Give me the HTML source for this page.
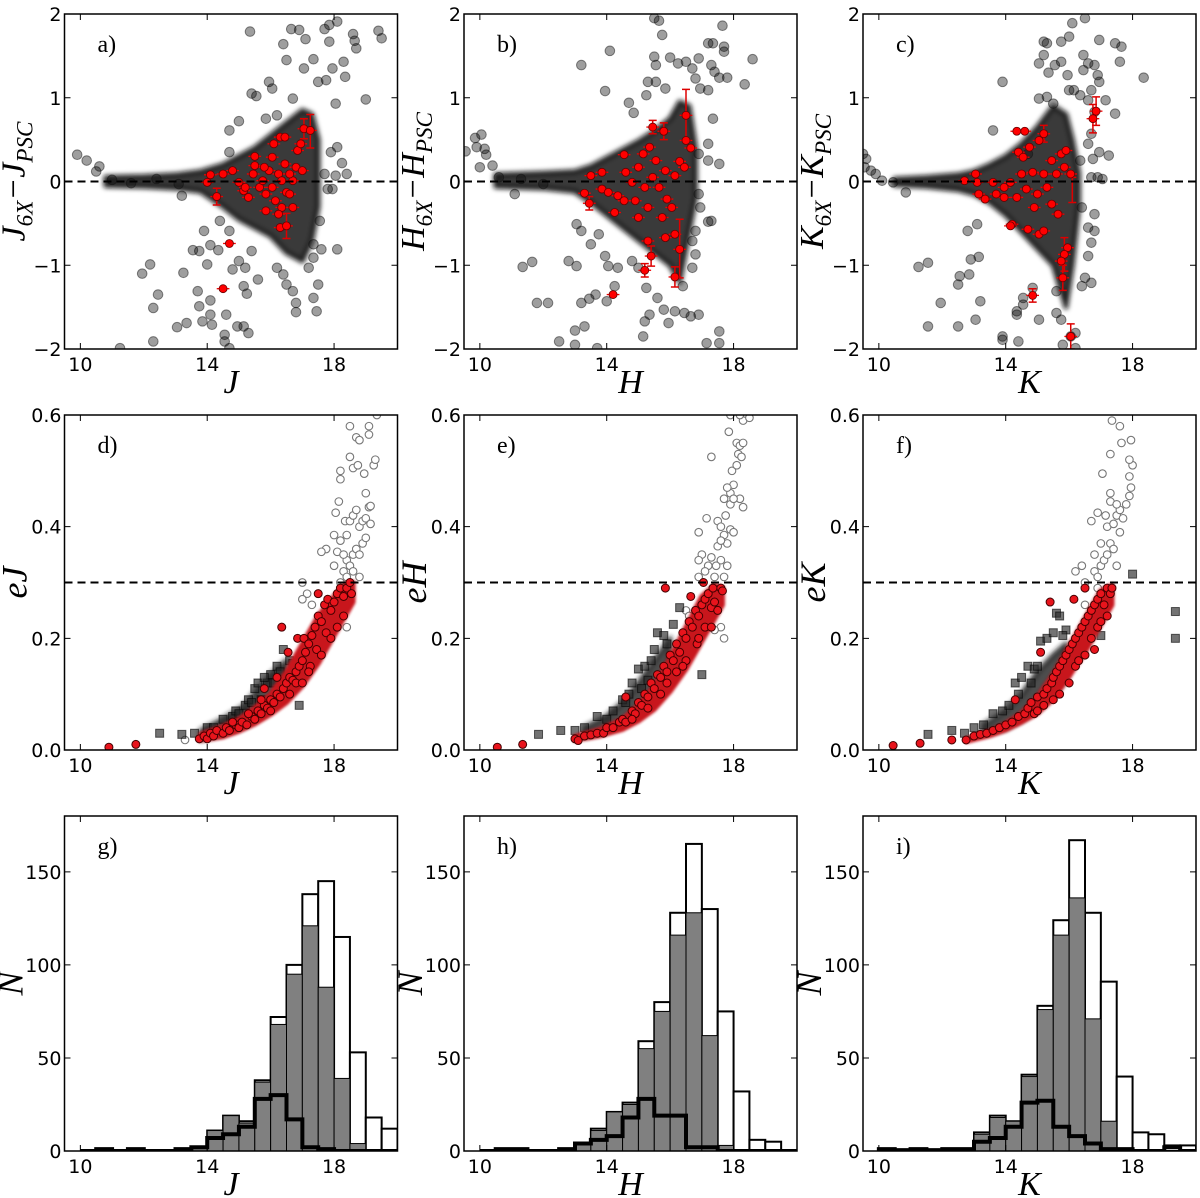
<!DOCTYPE html>
<html><head><meta charset="utf-8"><style>
html,body{margin:0;padding:0;background:#fff;}
svg{display:block;}
.tk{font-family:"DejaVu Sans","Liberation Sans",sans-serif;font-size:19px;fill:#000;}
.ml{font-family:"Liberation Serif",serif;font-style:italic;fill:#000;}
.pl{font-family:"Liberation Serif",serif;font-size:24px;fill:#000;}
</style></head><body>
<svg id="fig" width="1200" height="1198" xmlns="http://www.w3.org/2000/svg">
<defs><filter id="fz" x="-10%" y="-10%" width="120%" height="120%"><feGaussianBlur stdDeviation="2.5"/></filter>
<filter id="fz2" x="-10%" y="-10%" width="120%" height="120%"><feGaussianBlur stdDeviation="1.2"/></filter></defs>
</svg>
<script>
// ---------------- DATA ----------------
const aGray=[[9.9,0.32],[10.2,0.25],[10.6,0.18],[10.5,0.12],[15.35,1.79],[15.4,1.05],[15.55,1.02],[15.95,1.19],[16.05,1.11],[16.4,1.64],[16.5,1.45],[16.65,1.82],[16.9,1.81],[17.1,1.7],[17.35,1.46],[17.7,1.82],[17.85,1.87],[18.1,1.91],[18.6,1.76],[18.65,1.68],[18.7,1.59],[18.3,1.43],[19.4,1.8],[19.5,1.71],[17.85,1.67],[17.05,1.35],[17.5,1.19],[17.95,1.35],[18.35,1.25],[19.0,0.98],[17.75,1.21],[18.05,0.93],[16.7,0.99],[16.2,0.79],[15.85,0.75],[15.0,0.72],[14.7,0.61],[18.25,0.22],[18.1,0.41],[17.9,0.35],[17.7,0.09],[17.8,-0.09],[17.95,-0.09],[18.05,0.07],[17.55,-0.47],[17.35,-0.75],[17.6,-0.81],[18.1,-0.81],[17.35,-0.91],[17.2,-1.03],[17.5,-1.23],[17.35,-1.39],[17.45,-1.55],[16.8,-1.56],[16.8,-1.45],[16.5,-1.23],[16.7,-1.31],[16.2,-1.03],[16.4,-1.11],[15.4,-0.83],[15.2,-1.03],[15.6,-1.17],[15.15,-1.25],[15.25,-1.34],[14.95,-1.73],[15.15,-1.73],[15.3,-1.81],[14.6,-1.59],[14.55,-1.83],[14.55,-1.91],[14.7,-1.99],[14.15,-1.71],[13.85,-1.67],[13.75,-1.49],[13.7,-1.31],[14.1,-1.42],[14.1,-1.59],[13.25,-1.09],[13.35,-1.69],[13.05,-1.74],[12.3,-1.91],[12.45,-1.35],[12.3,-1.51],[12.2,-0.99],[11.95,-1.1],[11.25,-1.99],[13.55,-0.82],[13.75,-0.83],[13.9,-0.59],[14.0,-0.99],[14.35,-0.82],[14.7,-0.59],[14.8,-1.05],[15.0,-0.95],[14.4,-0.47],[14.1,-0.76],[13.2,-0.17],[14.7,0.35],[18.4,0.09],[11.0,0.02],[11.6,-0.02],[12.4,0.03],[13.1,-0.03]];
const aRed=[[14.1,0.08],[14.0,-0.01],[14.3,-0.18],[14.5,0.09],[14.8,0.13],[15.0,-0.01],[15.15,-0.11],[15.3,-0.19],[15.45,0.09],[15.5,0.3],[15.5,0.19],[15.65,-0.07],[15.75,0.01],[15.85,-0.15],[15.95,0.13],[16.05,-0.07],[16.1,0.45],[16.15,-0.23],[16.25,0.09],[16.3,0.53],[16.35,0.01],[16.45,0.53],[16.45,0.21],[16.5,-0.13],[16.35,-0.31],[16.3,-0.55],[16.5,-0.53],[16.6,-0.15],[16.7,0.01],[16.8,0.17],[16.85,0.37],[16.95,0.45],[17.0,0.13],[17.05,0.63],[17.25,0.61],[16.7,-0.31],[15.85,-0.35],[16.25,-0.39],[14.7,-0.74],[14.5,-1.28],[15.2,-0.07],[15.8,0.17],[16.05,0.29],[16.6,0.09]];
const aErr=[[17.25,0.6,0.2],[17.05,0.63,0.12],[16.5,-0.53,0.15],[14.3,-0.18,0.1]];
const aEnvX=[10.8,12,13,13.8,14.5,15,15.5,16,16.5,17,17.3,17.5];
const aEnvUp=[0.05,0.06,0.08,0.12,0.2,0.3,0.4,0.55,0.7,0.85,0.8,0.5];
const aEnvLo=[-0.05,-0.06,-0.08,-0.12,-0.3,-0.45,-0.55,-0.65,-0.85,-0.95,-0.7,-0.3];

const bGray=[[9.55,0.36],[9.85,0.52],[10.05,0.56],[9.9,0.41],[10.15,0.39],[10.2,0.32],[10.0,0.17],[10.4,0.19],[11.1,-0.15],[11.35,-1.02],[11.65,-0.96],[11.8,-1.45],[12.15,-1.45],[12.5,-1.91],[13.0,-1.95],[13.0,-1.78],[13.2,1.39],[14.1,1.56],[13.95,1.08],[14.7,0.94],[14.85,0.82],[15.5,1.95],[15.65,1.92],[15.75,1.75],[15.5,1.49],[15.55,1.39],[15.3,1.19],[15.55,1.19],[15.25,1.03],[15.85,1.11],[16.0,1.48],[16.25,1.41],[16.5,1.43],[16.7,1.35],[16.8,1.23],[16.9,1.47],[17.2,1.65],[17.35,1.65],[17.3,1.39],[17.4,1.31],[17.55,1.24],[17.7,1.61],[17.7,1.55],[17.65,1.86],[17.8,1.24],[18.35,1.16],[18.6,1.46],[16.95,1.11],[17.2,1.09],[17.35,0.75],[17.2,0.45],[17.2,0.25],[16.9,0.33],[17.55,0.21],[16.9,-0.15],[16.95,-0.31],[16.8,-0.59],[16.8,-0.87],[17.2,-0.48],[16.7,-1.03],[16.4,-1.25],[16.45,-1.57],[16.65,-1.61],[16.9,-1.59],[16.15,-1.55],[15.95,-1.69],[15.8,-1.53],[15.6,-1.39],[15.35,-1.59],[15.2,-1.67],[15.15,-1.85],[15.25,-1.27],[15.0,-1.03],[14.8,-0.95],[14.35,-1.03],[14.05,-1.01],[13.95,-0.89],[14.0,-1.43],[14.25,-1.25],[13.65,-1.35],[13.45,-1.4],[13.2,-1.45],[13.3,-1.73],[13.5,-0.75],[13.75,-0.63],[13.2,-0.59],[13.05,-0.51],[12.8,-0.95],[13.05,-1.01],[17.55,-1.93],[17.15,-1.93],[17.55,-1.79],[17.3,-0.47],[16.7,-0.71],[13.7,-1.99],[10.6,0.05],[11.3,0.03],[12.0,-0.03]];
const bRed=[[13.3,-0.14],[13.45,-0.26],[13.5,0.07],[13.85,0.11],[13.85,-0.09],[14.05,-0.13],[14.35,-0.17],[14.25,-0.37],[14.55,0.32],[14.6,0.11],[14.8,-0.01],[14.9,-0.23],[15.0,0.17],[15.15,0.33],[15.2,-0.07],[15.3,-0.31],[15.35,0.41],[15.45,0.65],[15.45,0.05],[15.55,0.25],[15.65,-0.07],[15.75,-0.43],[15.8,0.6],[15.85,0.13],[15.9,-0.21],[15.85,-0.67],[15.3,-0.71],[15.4,-0.89],[15.2,-1.06],[16.05,-0.31],[16.15,0.07],[16.15,-0.63],[16.3,-0.81],[16.15,-1.14],[16.3,0.24],[16.45,0.17],[16.5,0.79],[16.5,0.49],[16.65,0.4],[14.2,-1.35],[14.55,-0.23],[15.0,-0.43]];
const bErr=[[16.5,0.8,0.3],[16.3,-0.8,0.35],[15.45,0.65,0.08],[15.8,0.6,0.1],[16.15,-1.14,0.12],[15.4,-0.89,0.12],[15.2,-1.06,0.08],[13.45,-0.26,0.08]];
const bEnvX=[10.5,12,13,13.5,14,14.5,15,15.5,16,16.3,16.6,16.8];
const bEnvUp=[0.08,0.1,0.12,0.18,0.28,0.38,0.48,0.6,0.75,0.95,0.9,0.4];
const bEnvLo=[-0.06,-0.08,-0.12,-0.25,-0.4,-0.55,-0.7,-0.85,-1.0,-1.2,-0.6,-0.2];

const cGray=[[9.5,0.33],[9.6,0.27],[9.55,0.17],[9.75,0.13],[9.9,0.09],[10.1,0.01],[10.45,-0.01],[10.85,-0.13],[11.25,-1.02],[11.55,-0.97],[11.55,-1.73],[11.95,-1.45],[12.5,-1.23],[12.55,-1.13],[12.85,-1.11],[12.9,-0.93],[12.5,-1.73],[12.8,-0.59],[13.1,-0.51],[13.15,-0.9],[13.2,-1.43],[13.05,-1.65],[13.6,0.61],[13.9,1.19],[13.9,-1.85],[13.9,-1.89],[14.4,-1.91],[14.35,-1.55],[14.35,-1.59],[14.55,-1.39],[14.55,-1.47],[15.05,-1.65],[14.85,-1.27],[15.6,-1.31],[15.6,-1.57],[15.75,-1.65],[15.8,-1.95],[16.05,-1.85],[16.4,-1.25],[16.5,-1.15],[16.7,-1.21],[16.6,-0.89],[16.7,-0.73],[16.8,-0.59],[16.8,-0.39],[16.6,-0.55],[16.4,-0.31],[16.7,0.05],[16.9,0.05],[17.05,0.03],[16.75,0.27],[16.95,0.35],[17.25,0.31],[16.6,0.45],[16.35,0.25],[16.7,0.57],[16.6,0.97],[16.8,0.83],[17.45,0.81],[17.15,0.97],[16.9,1.27],[16.95,1.19],[16.7,1.09],[16.6,1.41],[16.45,1.51],[16.45,1.33],[16.8,1.39],[16.95,1.69],[16.5,1.95],[16.1,1.89],[15.75,1.67],[15.75,1.43],[15.55,1.39],[15.95,1.27],[16.0,1.09],[16.15,1.09],[16.35,1.03],[15.2,1.67],[15.3,1.65],[15.2,1.51],[15.05,1.41],[15.35,1.3],[15.05,0.99],[15.3,1.01],[15.5,0.93],[17.45,1.65],[17.65,1.61],[17.6,1.43],[18.35,1.24],[16.0,1.73],[14.7,0.33],[16.2,-1.81],[16.2,-1.99]];
const cRed=[[12.7,0.01],[13.05,0.09],[13.1,-0.01],[13.15,-0.15],[13.35,-0.21],[13.6,-0.01],[13.7,-0.15],[13.95,-0.07],[13.95,-0.19],[14.15,-0.01],[14.2,-0.51],[14.35,-0.19],[14.4,0.35],[14.5,0.09],[14.6,0.6],[14.55,0.29],[14.65,-0.09],[14.7,-0.57],[14.75,0.41],[14.85,0.11],[14.9,-0.31],[15.0,-0.15],[15.05,0.49],[15.05,-0.63],[15.2,0.57],[15.2,0.09],[15.2,-0.59],[15.3,-0.07],[15.45,0.25],[15.45,-0.27],[15.6,0.09],[15.65,-0.39],[15.75,0.33],[15.85,0.17],[15.95,-0.79],[15.85,-0.87],[15.8,-1.15],[15.75,-0.95],[15.9,0.37],[16.05,0.09],[16.05,-1.85],[14.85,-1.36],[16.75,0.75],[16.85,0.84],[14.15,-0.53],[14.35,0.6]];
const cErr=[[16.85,0.84,0.17],[16.75,0.75,0.17],[16.05,-1.85,0.15],[15.8,-1.15,0.15],[15.85,-0.87,0.2],[14.85,-1.36,0.08],[15.2,0.57,0.1],[16.1,-0.1,0.15]];
const cEnvX=[10.5,11.5,12.5,13,13.5,14,14.5,15,15.5,15.9,16.1,16.3];
const cEnvUp=[0.03,0.05,0.08,0.12,0.2,0.3,0.45,0.65,0.9,0.8,0.5,0.1];
const cEnvLo=[-0.04,-0.06,-0.1,-0.15,-0.25,-0.4,-0.6,-0.8,-1.0,-1.5,-1.0,-0.3];

const dRed=[[10.9,0.005],[11.75,0.01],[13.75,0.02],[13.9,0.025],[14.0,0.02],[14.1,0.03],[14.2,0.025],[14.3,0.035],[14.5,0.03],[14.6,0.04],[14.7,0.035],[14.9,0.045],[15.0,0.04],[15.1,0.05],[15.25,0.045],[15.4,0.06],[15.5,0.055],[15.6,0.07],[15.7,0.065],[15.8,0.08],[15.9,0.075],[16.0,0.09],[16.1,0.085],[16.2,0.1],[16.3,0.095],[16.35,0.22],[16.4,0.11],[16.5,0.12],[16.55,0.175],[16.6,0.13],[16.7,0.125],[16.8,0.14],[16.85,0.2],[16.9,0.15],[17.0,0.16],[17.05,0.2],[17.1,0.175],[17.2,0.19],[17.25,0.15],[17.3,0.205],[17.4,0.22],[17.45,0.18],[17.5,0.24],[17.6,0.23],[17.7,0.26],[17.75,0.21],[17.8,0.27],[17.9,0.25],[18.0,0.265],[18.1,0.28],[18.2,0.29],[18.3,0.275],[18.4,0.29],[18.5,0.3],[18.55,0.28],[15.8,0.11],[16.2,0.13],[16.0,0.07],[15.3,0.065],[17.6,0.17],[17.9,0.2],[18.3,0.24],[16.8,0.12],[17.2,0.14],[14.8,0.05],[15.7,0.09],[17.5,0.28],[16.6,0.1],[17.0,0.12],[18.1,0.22]];
const dSq=[[12.5,0.03],[13.2,0.028],[13.6,0.03],[14.0,0.04],[14.5,0.055],[14.8,0.06],[15.2,0.08],[15.3,0.09],[15.5,0.11],[15.6,0.12],[15.9,0.12],[16.0,0.135],[16.2,0.15],[16.3,0.14],[16.4,0.18],[16.6,0.16],[16.9,0.08],[15.7,0.09],[15.8,0.13],[16.1,0.12],[14.2,0.04],[14.9,0.07],[15.4,0.085],[15.0,0.065],[16.7,0.155]];
const dOpen=[[13.3,0.018],[17.0,0.3],[17.15,0.28],[18.0,0.33],[18.2,0.30],[18.3,0.32],[18.4,0.34],[18.5,0.33],[18.6,0.35],[18.7,0.36],[18.8,0.35],[18.9,0.37],[19.0,0.38],[18.1,0.355],[17.75,0.36],[17.6,0.355],[18.0,0.385],[18.2,0.375],[18.35,0.41],[18.5,0.41],[18.6,0.42],[18.8,0.40],[18.9,0.41],[19.0,0.415],[19.15,0.405],[18.05,0.425],[18.15,0.445],[18.2,0.485],[18.2,0.5],[18.5,0.525],[18.6,0.505],[18.75,0.51],[18.95,0.495],[19.25,0.51],[19.3,0.52],[19.0,0.46],[19.1,0.435],[19.15,0.437],[18.7,0.56],[18.8,0.555],[19.1,0.565],[18.5,0.58],[19.1,0.58],[19.35,0.6],[18.7,0.43],[18.4,0.385],[18.3,0.35],[18.6,0.32],[18.8,0.31],[18.4,0.31],[18.3,0.26],[18.4,0.22],[17.8,0.23],[17.9,0.22],[17.0,0.27],[17.3,0.26]];
const dEnvX=[13.8,14.5,15.2,15.6,16,16.5];
const dEnvUp=[0.035,0.055,0.08,0.11,0.135,0.16];
const dEnvLo=[0.02,0.03,0.045,0.06,0.08,0.11];
const dRedEnvX=[13.8,14.5,15,15.5,16,16.5,17,17.5,18,18.3,18.6];
const dRedEnvUp=[0.028,0.042,0.055,0.075,0.1,0.14,0.19,0.24,0.275,0.295,0.3];
const dRedEnvLo=[0.018,0.024,0.034,0.047,0.064,0.085,0.115,0.155,0.205,0.235,0.265];

const eRed=[[10.55,0.005],[11.35,0.01],[13.0,0.02],[13.1,0.017],[13.3,0.025],[13.5,0.027],[13.7,0.03],[13.9,0.03],[14.0,0.04],[14.2,0.04],[14.4,0.05],[14.5,0.055],[14.6,0.05],[14.6,0.095],[14.8,0.07],[14.9,0.065],[15.0,0.085],[15.1,0.08],[15.2,0.1],[15.3,0.095],[15.4,0.12],[15.5,0.11],[15.6,0.135],[15.7,0.13],[15.8,0.15],[15.85,0.29],[15.9,0.14],[16.0,0.17],[16.1,0.16],[16.2,0.19],[16.3,0.175],[16.4,0.21],[16.5,0.2],[16.6,0.23],[16.65,0.275],[16.7,0.22],[16.8,0.25],[16.85,0.19],[16.9,0.24],[17.0,0.26],[17.05,0.3],[17.1,0.27],[17.2,0.28],[17.3,0.255],[17.35,0.29],[17.4,0.265],[17.5,0.25],[17.6,0.29],[17.65,0.285],[16.2,0.14],[16.5,0.16],[16.9,0.2],[15.7,0.1],[15.9,0.12],[17.1,0.22],[17.3,0.22],[16.4,0.15],[15.3,0.075],[14.8,0.055]];
const eSq=[[11.85,0.028],[12.55,0.035],[13.0,0.035],[13.3,0.04],[13.7,0.06],[14.0,0.055],[14.2,0.07],[14.5,0.09],[14.7,0.1],[14.8,0.12],[15.0,0.145],[15.2,0.15],[15.5,0.18],[15.6,0.21],[15.8,0.205],[15.3,0.125],[16.1,0.225],[16.3,0.255],[17.0,0.135],[15.9,0.19],[15.4,0.16],[14.6,0.085],[15.1,0.11]];
const eOpen=[[16.9,0.39],[17.15,0.415],[17.3,0.525],[17.5,0.41],[17.6,0.4],[17.7,0.385],[17.8,0.37],[17.5,0.365],[17.6,0.375],[17.9,0.395],[18.0,0.39],[17.75,0.42],[17.9,0.44],[17.9,0.46],[18.0,0.475],[17.95,0.5],[18.1,0.51],[18.15,0.53],[18.1,0.55],[18.2,0.545],[18.25,0.525],[18.3,0.55],[18.2,0.45],[18.3,0.435],[18.0,0.45],[17.8,0.47],[17.7,0.45],[17.85,0.57],[18.3,0.59],[18.5,0.595],[18.2,0.6],[17.9,0.6],[17.0,0.35],[17.2,0.33],[17.4,0.31],[17.1,0.32],[17.6,0.34],[17.8,0.33],[17.3,0.345],[17.45,0.33],[16.9,0.34],[17.7,0.31],[16.5,0.25],[16.6,0.24],[17.7,0.2],[17.6,0.22],[17.4,0.215],[16.9,0.31]];
const eEnvX=[13.3,14,14.6,15,15.5,16];
const eEnvUp=[0.04,0.06,0.09,0.12,0.16,0.2];
const eEnvLo=[0.025,0.035,0.05,0.065,0.09,0.13];
const eRedEnvX=[13.0,13.8,14.5,15,15.5,16,16.5,17,17.4,17.65];
const eRedEnvUp=[0.024,0.037,0.055,0.08,0.115,0.165,0.22,0.275,0.295,0.29];
const eRedEnvLo=[0.018,0.026,0.037,0.052,0.073,0.105,0.145,0.195,0.235,0.26];

const fRed=[[10.45,0.008],[11.3,0.012],[12.3,0.018],[12.75,0.018],[13.0,0.025],[13.2,0.028],[13.4,0.03],[13.6,0.035],[13.8,0.04],[14.0,0.045],[14.2,0.05],[14.3,0.09],[14.4,0.06],[14.6,0.065],[14.7,0.075],[14.8,0.085],[15.0,0.095],[15.1,0.175],[15.2,0.1],[15.3,0.11],[15.4,0.265],[15.45,0.12],[15.5,0.13],[15.6,0.14],[15.7,0.15],[15.8,0.16],[15.9,0.17],[16.0,0.18],[16.1,0.19],[16.15,0.27],[16.2,0.2],[16.3,0.21],[16.4,0.22],[16.5,0.29],[16.5,0.23],[16.6,0.24],[16.7,0.25],[16.8,0.26],[16.9,0.27],[17.0,0.28],[17.1,0.26],[17.2,0.29],[17.3,0.28],[17.35,0.29],[16.2,0.15],[16.5,0.17],[16.7,0.2],[16.9,0.22],[15.7,0.1],[15.5,0.09],[16.0,0.12],[15.2,0.08],[14.9,0.065],[16.3,0.16],[17.0,0.23],[17.2,0.24],[15.0,0.07],[16.8,0.18]];
const fSq=[[11.55,0.028],[12.3,0.035],[12.7,0.03],[13.0,0.04],[13.3,0.045],[13.6,0.065],[13.9,0.07],[14.1,0.08],[14.3,0.12],[14.5,0.13],[14.7,0.15],[14.9,0.145],[15.1,0.195],[15.3,0.2],[15.5,0.21],[15.6,0.245],[15.7,0.24],[15.9,0.215],[15.8,0.205],[14.8,0.12],[15.0,0.15],[17.0,0.205],[18.0,0.315],[19.35,0.248],[19.35,0.2],[14.4,0.1]];
const fOpen=[[16.5,0.3],[16.2,0.32],[16.4,0.33],[16.8,0.32],[16.9,0.31],[17.0,0.33],[17.1,0.34],[17.2,0.35],[17.3,0.37],[17.4,0.36],[17.0,0.37],[17.2,0.4],[16.7,0.41],[16.9,0.425],[17.15,0.42],[17.4,0.405],[17.5,0.42],[17.6,0.43],[17.7,0.415],[17.8,0.44],[17.9,0.455],[17.95,0.47],[17.9,0.49],[18.0,0.51],[17.9,0.52],[17.65,0.55],[17.95,0.555],[17.3,0.53],[17.35,0.59],[17.6,0.58],[17.05,0.495],[17.3,0.46],[17.3,0.445],[17.5,0.44],[17.6,0.39],[16.8,0.35],[17.5,0.33],[16.5,0.26],[16.7,0.23],[17.0,0.26],[16.9,0.29]];
const fEnvX=[13.3,14,14.5,15,15.5,15.9];
const fEnvUp=[0.045,0.07,0.1,0.14,0.17,0.19];
const fEnvLo=[0.03,0.04,0.055,0.075,0.1,0.13];
const fRedEnvX=[12.8,13.5,14,14.5,15,15.5,16,16.5,17,17.35];
const fRedEnvUp=[0.02,0.033,0.047,0.066,0.095,0.135,0.185,0.235,0.285,0.295];
const fRedEnvLo=[0.016,0.026,0.036,0.05,0.066,0.092,0.132,0.175,0.225,0.26];

const binStarts=[10,10.5,11,11.5,12,12.5,13,13.5,14,14.5,15,15.5,16,16.5,17,17.5,18,18.5,19,19.5];
const gAll=[0,1,0,1,0,0,1,2,11,19,16,38,72,100,138,145,115,53,18,12];
const gGood=[0,1,0,1,0,0,1,2,11,19,15,37,68,95,121,88,39,4,0,0];
const gPsc=[0,1,0,1,0,0,1,2,7,9,13,28,30,17,2,1,0,0,0,0];
const hAll=[0,1,1,0,0,1,4,12,21,26,59,80,128,165,130,75,32,6,5,0];
const hGood=[0,1,1,0,0,1,4,11,21,25,55,75,116,128,62,3,0,0,0,0];
const hPsc=[0,1,1,0,0,1,4,6,8,18,28,19,19,2,2,0,0,0,0,0];
const iAll=[0,1,0,1,0,1,10,19,16,41,78,124,167,128,91,40,10,9,3,3];
const iGood=[0,0,0,0,0,1,9,18,16,40,76,116,136,71,16,0,0,0,0,0];
const iPsc=[1,0,1,0,1,1,5,7,13,26,27,13,8,4,1,1,0,0,2,0];

const xTicks=[10,14,18];
const yTicksTop=[-2,-1,0,1,2];
const yTickLabelsTop=['\u22122','\u22121','0','1','2'];
const yTicksMid=[0,0.2,0.4,0.6];
const yTickLabelsMid=['0.0','0.2','0.4','0.6'];
const yTicksBot=[0,50,100,150];
const yTickLabelsBot=['0','50','100','150'];

// ---------------- DRAW ----------------
const NS='http://www.w3.org/2000/svg';
const fig=document.getElementById('fig');
function mk(tag,parent){const e=document.createElementNS(NS,tag);parent.appendChild(e);return e;}
function at(e,o){for(const k in o)e.setAttribute(k,o[k]);return e;}
const COLS=[64.5,464,863], ROWS=[14,415,816], W=333, H=335;

function makePanel(col,row,ymin,ymax,name){
  const L=COLS[col],T=ROWS[row];
  const g=mk('g',fig);
  
  
  const sx=v=>L+(v-9.5)/(20-9.5)*W;
  const sy=v=>T+H-(v-ymin)/(ymax-ymin)*H;
  const cp=mk('clipPath',g);at(cp,{id:'cp-'+name});
  at(mk('rect',cp),{x:L,y:T,width:W,height:H});
  const plot=mk('g',g);at(plot,{'clip-path':'url(#cp-'+name+')'});
  
  
  return {g,plot,sx,sy,L,T};
}
function frame(p,name,yt,ylabs,letter,xl,ylabFn){
  const {g,sx,sy,L,T}=p;
  const r=mk('rect',g);at(r,{x:L,y:T,width:W,height:H,fill:'none',stroke:'#000','stroke-width':1.5});
  
  
  xTicks.forEach(v=>{
    const x=sx(v);
    const t1=mk('path',g);at(t1,{d:`M${x},${T+H}v-6M${x},${T}v6`,stroke:'#000','stroke-width':1});
    
    
    const tl=mk('text',g);at(tl,{x:x,y:T+H+22,'text-anchor':'middle',class:'tk'});tl.textContent=String(v);
    
    
  });
  yt.forEach((v,i)=>{
    const y=sy(v);
    const t1=mk('path',g);at(t1,{d:`M${L},${y}h6M${L+W},${y}h-6`,stroke:'#000','stroke-width':1});
    
    
    const tl=mk('text',g);at(tl,{x:L-3,y:y+7,'text-anchor':'end',class:'tk'});tl.textContent=ylabs[i];
    
    
  });
  const lt=mk('text',g);at(lt,{x:L+33,y:T+38,class:'pl'});lt.textContent=letter;
  
  
  const xt=mk('text',g);at(xt,{x:L+W/2,y:T+H+44,'text-anchor':'middle',class:'ml','font-size':34});xt.textContent=xl;
  
  
  const yl=mk('text',g);at(yl,{transform:`translate(${L-ylabFn.off},${T+H/2}) rotate(-90)`,'text-anchor':'middle',class:'ml','font-size':ylabFn.fs});
  
  
  ylabFn.parts.forEach(pt=>{const ts=mk('tspan',yl);ts.textContent=pt[0];if(pt[1]==='sub'){at(ts,{'font-size':ylabFn.fs*0.68,dy:8});}else if(pt[1]==='up'){at(ts,{dy:-8});}});
}
function env(p,xs,up,lo,fill,name,flt){
  let pts=xs.map((x,i)=>p.sx(x)+','+p.sy(up[i]));
  for(let i=xs.length-1;i>=0;i--)pts.push(p.sx(xs[i])+','+p.sy(lo[i]));
  const e=mk('polygon',p.plot);at(e,{points:pts.join(' '),fill:fill,stroke:fill,'stroke-width':5,'stroke-linejoin':'round',filter:flt||'url(#fz)'});
  
  
}
function dots(p,arr,r,fill,stroke,name,sw){
  arr.forEach(d=>{
    const c=mk('circle',p.plot);at(c,{cx:p.sx(d[0]),cy:p.sy(d[1]),r:r,fill:fill,stroke:stroke,'stroke-width':sw||1});
    
    
  });
}
function squares(p,arr,name){
  arr.forEach(d=>{
    const s=mk('rect',p.plot);at(s,{x:p.sx(d[0])-4,y:p.sy(d[1])-4,width:8,height:8,fill:'rgba(40,40,40,0.65)',stroke:'rgba(0,0,0,0.6)','stroke-width':1});
    
    
  });
}
function hline(p,y,name){
  const l=mk('line',p.plot);at(l,{x1:p.L,x2:p.L+W,y1:p.sy(y),y2:p.sy(y),stroke:'#000','stroke-width':2,'stroke-dasharray':'8,5'});
  
  
}
function topPanel(col,letter,ax,gray,red,err,ex,eu,el){
  const p=makePanel(col,0,-2,2,'panel-'+letter);
  dots(p,gray,4.8,'rgba(0,0,0,0.38)','rgba(0,0,0,0.45)','comparison-point');
  env(p,ex,eu,el,'rgba(15,15,15,0.82)','dense-cloud');
  red.forEach(d=>{
    const l=mk('line',p.plot);at(l,{x1:p.sx(d[0]-0.2),x2:p.sx(d[0]+0.2),y1:p.sy(d[1]),y2:p.sy(d[1]),stroke:'#e00','stroke-width':1.3});
    
    
  });
  err.forEach(d=>{
    const x=p.sx(d[0]),y1=p.sy(d[1]-d[2]),y2=p.sy(d[1]+d[2]);
    const l=mk('path',p.plot);at(l,{d:`M${x},${y1}V${y2}M${x-4},${y1}h8M${x-4},${y2}h8`,stroke:'#d00','stroke-width':1.5,fill:'none'});
    
    
  });
  dots(p,red,4,'#f00','#600','saturated-point',0.8);
  hline(p,0,'zero-line');
  frame(p,'panel-'+letter,yTicksTop,yTickLabelsTop,letter+')',ax,{off:40,fs:34,parts:[[ax],['6X','sub'],['\u2212','up'],[ax],['PSC','sub']]});
}
function midPanel(col,letter,ax,red,sq,open,ex,eu,el,rx,ru,rl){
  const p=makePanel(col,1,0,0.6,'panel-'+letter);
  dots(p,open,3.8,'#fff','#777','open-point',1.1);
  env(p,ex,eu,el,'rgba(30,30,30,0.8)','dense-squares');
  squares(p,sq,'gray-square');
  env(p,rx,ru,rl,'#c8141c','dense-red','url(#fz2)');
  dots(p,red,4,'#e8141c','#400','red-point',1);
  hline(p,0.3,'cut-line');
  frame(p,'panel-'+letter,yTicksMid,yTickLabelsMid,letter+')',ax,{off:38,fs:36,parts:[['e'+ax]]});
}
function histPanel(col,letter,ax,all,good,psc){
  const p=makePanel(col,2,0,180,'panel-'+letter);
  const bw=0.5;
  binStarts.forEach((b,i)=>{
    if(all[i]<=0)return;
    const r=mk('rect',p.plot);at(r,{x:p.sx(b),y:p.sy(all[i]),width:p.sx(b+bw)-p.sx(b),height:p.sy(0)-p.sy(all[i]),fill:'#fff',stroke:'#000','stroke-width':2});
    
    
  });
  binStarts.forEach((b,i)=>{
    if(good[i]<=0)return;
    const r=mk('rect',p.plot);at(r,{x:p.sx(b),y:p.sy(good[i]),width:p.sx(b+bw)-p.sx(b),height:p.sy(0)-p.sy(good[i]),fill:'#808080',stroke:'#000','stroke-width':1});
    
    
  });
  let d='M'+p.sx(binStarts[0])+','+p.sy(0);
  binStarts.forEach((b,i)=>{d+=' L'+p.sx(b)+','+p.sy(psc[i])+' L'+p.sx(b+bw)+','+p.sy(psc[i]);});
  d+=' L'+p.sx(20)+','+p.sy(0);
  const s=mk('path',p.plot);at(s,{d:d,fill:'none',stroke:'#000','stroke-width':4,'stroke-linejoin':'miter'});
  
  
  frame(p,'panel-'+letter,yTicksBot,yTickLabelsBot,letter+')',ax,{off:42,fs:36,parts:[['N']]});
}
topPanel(0,'a','J',aGray,aRed,aErr,aEnvX,aEnvUp,aEnvLo);
topPanel(1,'b','H',bGray,bRed,bErr,bEnvX,bEnvUp,bEnvLo);
topPanel(2,'c','K',cGray,cRed,cErr,cEnvX,cEnvUp,cEnvLo);
midPanel(0,'d','J',dRed,dSq,dOpen,dEnvX,dEnvUp,dEnvLo,dRedEnvX,dRedEnvUp,dRedEnvLo);
midPanel(1,'e','H',eRed,eSq,eOpen,eEnvX,eEnvUp,eEnvLo,eRedEnvX,eRedEnvUp,eRedEnvLo);
midPanel(2,'f','K',fRed,fSq,fOpen,fEnvX,fEnvUp,fEnvLo,fRedEnvX,fRedEnvUp,fRedEnvLo);
histPanel(0,'g','J',gAll,gGood,gPsc);
histPanel(1,'h','H',hAll,hGood,hPsc);
histPanel(2,'i','K',iAll,iGood,iPsc);
</script>
</body></html>
